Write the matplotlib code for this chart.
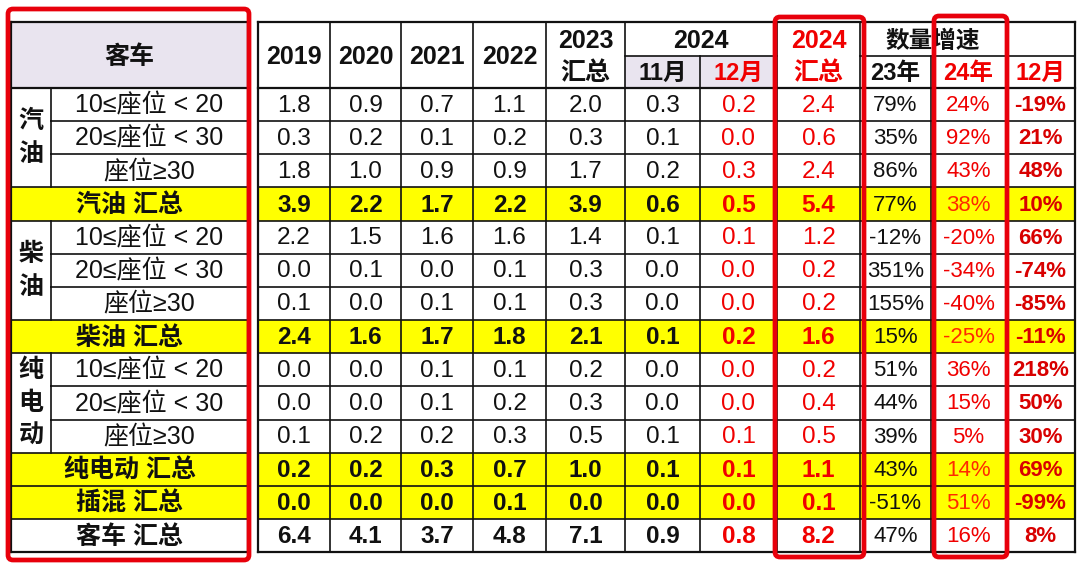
import matplotlib.pyplot as plt
from matplotlib.patches import Rectangle, FancyBboxPatch

plt.rcParams['font.family'] = ['Liberation Sans', 'Noto Sans CJK SC']

# ---- data ----
groups = ['汽油', '柴油', '纯电动']
seats = ['10≤座位 < 20', '20≤座位 < 30', '座位≥30']
row_labels = seats + ['汽油 汇总'] + seats + ['柴油 汇总'] + seats + \
    ['纯电动 汇总', '插混 汇总', '客车 汇总']
row_kind = ['seat'] * 3 + ['sum'] + ['seat'] * 3 + ['sum'] + ['seat'] * 3 + \
    ['sum', 'sum', 'total']

v2019 = [1.8, 0.3, 1.8, 3.9, 2.2, 0.0, 0.1, 2.4, 0.0, 0.0, 0.1, 0.2, 0.0, 6.4]
v2020 = [0.9, 0.2, 1.0, 2.2, 1.5, 0.1, 0.0, 1.6, 0.0, 0.0, 0.2, 0.2, 0.0, 4.1]
v2021 = [0.7, 0.1, 0.9, 1.7, 1.6, 0.0, 0.1, 1.7, 0.1, 0.1, 0.2, 0.3, 0.0, 3.7]
v2022 = [1.1, 0.2, 0.9, 2.2, 1.6, 0.1, 0.1, 1.8, 0.1, 0.2, 0.3, 0.7, 0.1, 4.8]
v2023 = [2.0, 0.3, 1.7, 3.9, 1.4, 0.3, 0.3, 2.1, 0.2, 0.3, 0.5, 1.0, 0.0, 7.1]
v2411 = [0.3, 0.1, 0.2, 0.6, 0.1, 0.0, 0.0, 0.1, 0.0, 0.0, 0.1, 0.1, 0.0, 0.9]
v2412 = [0.2, 0.0, 0.3, 0.5, 0.1, 0.0, 0.0, 0.2, 0.0, 0.0, 0.1, 0.1, 0.0, 0.8]
v2024 = [2.4, 0.6, 2.4, 5.4, 1.2, 0.2, 0.2, 1.6, 0.2, 0.4, 0.5, 1.1, 0.1, 8.2]
g23 = [79, 35, 86, 77, -12, 351, 155, 15, 51, 44, 39, 43, -51, 47]
g24 = [24, 92, 43, 38, -20, -34, -40, -25, 36, 15, 5, 14, 51, 16]
g12 = [-19, 21, 48, 10, 66, -74, -85, -11, 218, 50, 30, 69, -99, 8]

# ---- layout ----
xe = [11, 51, 248, 258, 330, 401, 473, 546, 625, 700, 777, 860, 931, 1006, 1075]
top, mid, hdr = 22, 56, 88
rh = 33.15
black, red, dred = '#111111', '#F00000', '#D80000'
yellow, lav = '#FFFF00', '#E9E4EF'
fnum = 17.5
fpct = 16
fcjk = 18

fig = plt.figure(figsize=(10.8, 5.69), dpi=100)
ax = fig.add_axes([0, 0, 1, 1])
ax.set_xlim(0, 1080)
ax.set_ylim(569, 0)
ax.axis('off')

n = len(row_labels)
bottom = hdr + n * rh

# header fills
ax.add_patch(Rectangle((xe[0], top), xe[2] - xe[0], hdr - top, fc=lav, lw=0))
ax.add_patch(Rectangle((xe[8], mid), xe[10] - xe[8], hdr - mid, fc=lav, lw=0))

# row fills
for i, k in enumerate(row_kind):
    y0 = hdr + i * rh
    if k == 'sum':
        ax.add_patch(Rectangle((xe[0], y0), xe[2] - xe[0], rh, fc=yellow, lw=0))
        ax.add_patch(Rectangle((xe[3], y0), xe[-1] - xe[3], rh, fc=yellow, lw=0))

lw = 1.2
# horizontal lines
ax.plot([xe[0], xe[2]], [top, top], color=black, lw=1.6)
ax.plot([xe[3], xe[-1]], [top, top], color=black, lw=1.6)
ax.plot([xe[8], xe[10]], [mid, mid], color=black, lw=lw)
ax.plot([xe[11], xe[-1]], [mid, mid], color=black, lw=lw)
for i in range(n + 1):
    y = hdr + i * rh
    w = 1.6 if i in (0, n) else lw
    # inside a group the first column is merged
    if 0 < i < n and row_kind[i - 1] == 'seat' and row_kind[i] == 'seat':
        ax.plot([xe[1], xe[2]], [y, y], color=black, lw=w)
    else:
        ax.plot([xe[0], xe[2]], [y, y], color=black, lw=w)
    ax.plot([xe[3], xe[-1]], [y, y], color=black, lw=w)

# vertical lines
for x in (xe[0], xe[2], xe[3], xe[-1]):
    ax.plot([x, x], [top, bottom], color=black, lw=1.6)
for j in range(4, len(xe) - 1):
    y_start = mid if j in (9, 12) else top
    ax.plot([xe[j], xe[j]], [y_start, bottom], color=black, lw=lw)
for i, k in enumerate(row_kind):
    if k == 'seat':
        y0 = hdr + i * rh
        ax.plot([xe[1], xe[1]], [y0, y0 + rh], color=black, lw=lw)


def cx(a, b=None):
    b = a if b is None else b
    return (xe[a] + xe[b + 1]) / 2


def txt(x, y, s, size=fnum, bold=False, color=black):
    ax.text(x, y, s, ha='center', va='center', fontsize=size,
            fontweight='bold' if bold else 'normal', color=color)


# header texts
ymid = (top + hdr) / 2 + 2
yt, yb = (top + mid) / 2 + 2, (mid + hdr) / 2 + 1
txt(cx(0, 1), ymid, '客车', fcjk, True)
for j, yr in enumerate(['2019', '2020', '2021', '2022']):
    txt(cx(3 + j), ymid, yr, 18, True)
txt(cx(7), yt, '2023', 18, True)
txt(cx(7), yb, '汇总', fcjk, True)
txt(cx(8, 9), yt, '2024', 18, True)
txt(cx(8), yb, '11月', 17, True)
txt(cx(9), yb, '12月', 17, True, red)
txt(cx(10), yt, '2024', 18, True, red)
txt(cx(10), yb, '汇总', fcjk, True, red)
txt(cx(11, 12), yt, '数量增速', 17, True)
txt(cx(11), yb, '23年', 17, True)
txt(cx(12), yb, '24年', 17, True, red)
txt(cx(13), yb, '12月', 17, True, red)

# group labels in first column
gi = 0
for i, k in enumerate(row_kind):
    if k == 'seat' and (i == 0 or row_kind[i - 1] != 'seat'):
        name = groups[gi]
        gi += 1
        yc = hdr + (i + 1.5) * rh
        for c, ch in enumerate(name):
            off = (c - (len(name) - 1) / 2) * rh
            txt(cx(0), yc + off, ch, fcjk, True)

# body
cols = [v2019, v2020, v2021, v2022, v2023, v2411, v2412, v2024]
for i, k in enumerate(row_kind):
    yc = hdr + (i + 0.5) * rh + 1
    strong = k != 'seat'
    if k == 'seat':
        txt(cx(1), yc, row_labels[i], fcjk)
    else:
        txt(cx(0, 1), yc, row_labels[i], fcjk, True)
    for j, col in enumerate(cols):
        color = red if j >= 6 else black
        txt(cx(3 + j), yc, f'{col[i]:.1f}', fnum, strong, color)
    txt(cx(11), yc, f'{g23[i]}%', fpct, False, black)
    txt(cx(12), yc, f'{g24[i]}%', fpct, False, '#FF2A00' if k == 'sum' else red)
    txt(cx(13), yc, f'{g12[i]}%', fpct, True, dred)

# red highlight frames
for (x0, y0, x1, y1) in [(8, 9, 249, 560), (775, 17, 864, 557), (934, 16, 1007, 557)]:
    ax.add_patch(FancyBboxPatch((x0, y0), x1 - x0, y1 - y0,
                                boxstyle='round,pad=0,rounding_size=5',
                                fc='none', ec='#E8000B', lw=3.4, zorder=5))

plt.savefig('out.png', dpi=100)
